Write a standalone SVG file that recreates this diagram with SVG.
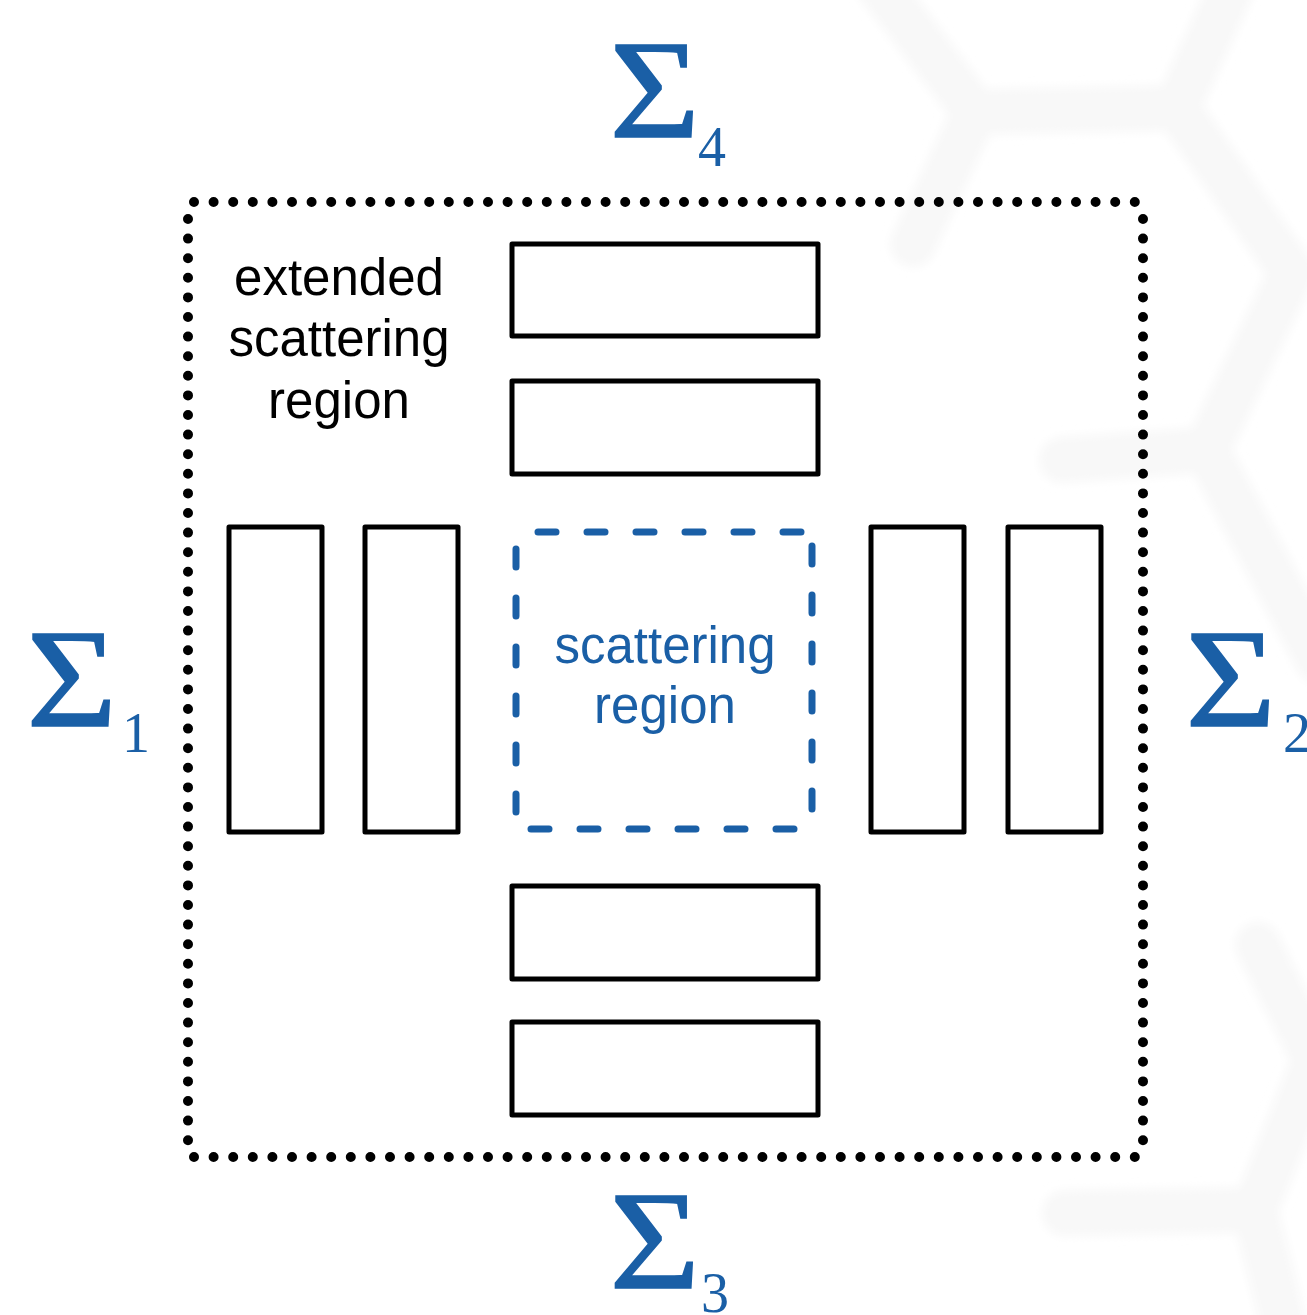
<svg xmlns="http://www.w3.org/2000/svg" width="1307" height="1315" viewBox="0 0 1307 1315">
  <defs>
    <style>
      .box { fill: none; stroke: #000; stroke-width: 5; stroke-linejoin: round; }
      .dots { fill: none; stroke: #000; stroke-width: 10; stroke-linecap: round; stroke-dasharray: 0 19.6; }
      .dash { fill: none; stroke: #1a5fa6; stroke-width: 7; stroke-linecap: round; stroke-dasharray: 18 31; }
      .lbl { font-family: "Liberation Sans", Arial, sans-serif; font-size: 51px; text-anchor: middle; }
      .sig { font-family: "Liberation Serif", "Times New Roman", serif; fill: #1a5fa6; }
      .big { font-size: 140px; stroke: #1a5fa6; stroke-width: 1.6; }
      .sub { font-size: 56px; }
      .wm { fill: none; stroke: #f8f8f8; stroke-width: 46; stroke-linecap: round; stroke-linejoin: round; }
    </style>
    <filter id="soft" x="-10%" y="-10%" width="120%" height="120%">
      <feGaussianBlur stdDeviation="5"/>
    </filter>
  </defs>
  <rect width="1307" height="1315" fill="#fff"/>

  <!-- faint background watermark -->
  <g id="watermark" filter="url(#soft)">
    <polyline class="wm" points="875,-20 975,112 1177,108 1235,-20"/>
    <line class="wm" x1="975" y1="112" x2="913" y2="244"/>
    <polyline class="wm" points="1177,108 1292,272 1207,450 1318,660"/>
    <line class="wm" x1="1207" y1="450" x2="1062" y2="460"/>
    <polyline class="wm" points="1258,945 1315,1060 1255,1210 1285,1330"/>
    <line class="wm" x1="1255" y1="1210" x2="1065" y2="1213"/>
  </g>

  <g id="extended-region">
    <line class="dots" x1="194" y1="202" x2="1135" y2="202"/>
    <line class="dots" x1="194" y1="1157" x2="1135" y2="1157"/>
    <line class="dots" x1="188" y1="219" x2="188" y2="1140.5"/>
    <line class="dots" x1="1143" y1="219" x2="1143" y2="1140.5"/>
    <text class="lbl" x="339" y="295" fill="#000">extended</text>
    <text class="lbl" x="339" y="356" fill="#000">scattering</text>
    <text class="lbl" x="339" y="418" fill="#000">region</text>
  </g>

  <g id="lead-top-1"><rect class="box" x="512" y="244" width="306" height="92"/></g>
  <g id="lead-top-2"><rect class="box" x="512" y="381" width="306" height="93"/></g>
  <g id="lead-bottom-1"><rect class="box" x="512" y="886" width="306" height="93"/></g>
  <g id="lead-bottom-2"><rect class="box" x="512" y="1022" width="306" height="93"/></g>
  <g id="lead-left-1"><rect class="box" x="229" y="527" width="93" height="305"/></g>
  <g id="lead-left-2"><rect class="box" x="365" y="527" width="93" height="305"/></g>
  <g id="lead-right-1"><rect class="box" x="871" y="527" width="93" height="305"/></g>
  <g id="lead-right-2"><rect class="box" x="1008" y="527" width="93" height="305"/></g>

  <g id="scattering-region">
    <line class="dash" x1="516" y1="532" x2="812" y2="532" stroke-dashoffset="27"/>
    <line class="dash" x1="516" y1="829" x2="812" y2="829" stroke-dashoffset="34"/>
    <line class="dash" x1="516" y1="532" x2="516" y2="829" stroke-dashoffset="32"/>
    <line class="dash" x1="812" y1="532" x2="812" y2="829" stroke-dashoffset="35"/>
    <text class="lbl" x="665" y="663" fill="#1a5fa6">scattering</text>
    <text class="lbl" x="665" y="723" fill="#1a5fa6">region</text>
  </g>

  <g id="sigma-4">
    <text class="sig big" transform="translate(614,137) scale(1.11,1)" x="-4" y="0">Σ</text>
    <text class="sig sub" x="698" y="166">4</text>
  </g>
  <g id="sigma-1">
    <text class="sig big" transform="translate(31,726) scale(1.11,1)" x="-4" y="0">Σ</text>
    <text class="sig sub" x="122" y="752">1</text>
  </g>
  <g id="sigma-2">
    <text class="sig big" transform="translate(1190,726) scale(1.11,1)" x="-4" y="0">Σ</text>
    <text class="sig sub" x="1283" y="752">2</text>
  </g>
  <g id="sigma-3">
    <text class="sig big" transform="translate(614,1288) scale(1.11,1)" x="-4" y="0">Σ</text>
    <text class="sig sub" x="701" y="1312">3</text>
  </g>
</svg>
